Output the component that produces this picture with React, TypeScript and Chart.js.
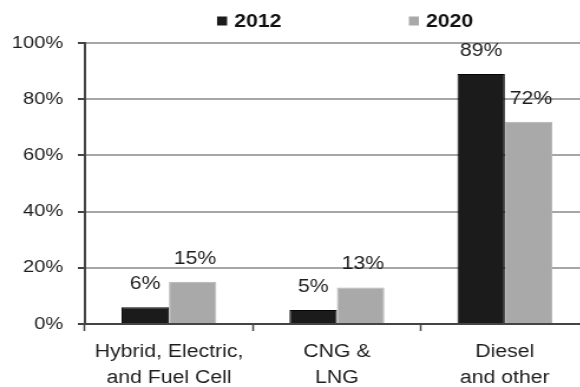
import { useEffect, useRef } from "react";
import { Chart, registerables } from "chart.js";

Chart.register(...registerables);

// Vehicle fuel-type shares, 2012 vs 2020
const categories = [
  ["Hybrid, Electric,", "and Fuel Cell"],
  ["CNG &", "LNG"],
  ["Diesel", "and other"],
];
const seriesLabels = ["2012", "2020"];
const share2012 = [6, 5, 89];
const share2020 = [15, 13, 72];
const yMin = 0;
const yMax = 100;
const yStep = 20;

// The drawing is laid out narrow and widened horizontally with a CSS transform
const STRETCH = 1.18;
const W = 505;
const H = 387;
const FONT = "'Liberation Sans', Arial, Helvetica, sans-serif";
const INK = "#1e1e1e";
const AXIS = "#444444";

const valueLabels = {
  id: "valueLabels",
  afterDatasetsDraw(chart: any) {
    const ctx = chart.ctx;
    ctx.save();
    ctx.font = `18px ${FONT}`;
    ctx.fillStyle = INK;
    ctx.textAlign = "center";
    ctx.textBaseline = "middle";
    chart.data.datasets.forEach((ds: any, i: number) => {
      const meta = chart.getDatasetMeta(i);
      meta.data.forEach((bar: any, j: number) => {
        ctx.fillText(`${ds.data[j]}%`, bar.x + (i === 1 ? 2 : 0), bar.y - 23);
      });
    });
    ctx.restore();
  },
};

const topLegend = {
  id: "topLegend",
  afterDraw(chart: any) {
    const ctx = chart.ctx;
    const area = chart.chartArea;
    const box = 8.5;
    const gapText = 6;
    const gapItem = 108;
    const y = 21;
    ctx.save();
    ctx.font = `bold 18px ${FONT}`;
    const items = chart.data.datasets.map((ds: any) => ({
      text: ds.label,
      color: ds.backgroundColor,
      w: ctx.measureText(ds.label).width,
    }));
    const total =
      items.reduce((s: number, it: any) => s + box + gapText + it.w, 0) +
      gapItem * (items.length - 1);
    let x = (area.left + area.right) / 2 + 7 - total / 2;
    items.forEach((it: any) => {
      ctx.fillStyle = it.color;
      ctx.fillRect(x, y - 4.5, box, 9);
      x += box + gapText;
      ctx.fillStyle = "#111111";
      ctx.textAlign = "left";
      ctx.textBaseline = "middle";
      ctx.fillText(it.text, x, y + 1);
      x += it.w + gapItem;
    });
    ctx.restore();
  },
};

export default function App() {
  const canvasRef = useRef<HTMLCanvasElement | null>(null);

  useEffect(() => {
    const canvas = canvasRef.current;
    if (!canvas) return;
    const chart = new Chart(canvas, {
      type: "bar",
      data: {
        labels: categories,
        datasets: [
          {
            label: seriesLabels[0],
            data: share2012,
            backgroundColor: "#1b1b1b",
            borderColor: "#050505",
            borderWidth: 1,
          },
          {
            label: seriesLabels[1],
            data: share2020,
            backgroundColor: "#a9a9a9",
            borderColor: "#b4b4b4",
            borderWidth: 1,
          },
        ],
      },
      options: {
        responsive: false,
        animation: false,
        devicePixelRatio: 1,
        layout: { padding: { top: 43, right: 6, left: 0, bottom: 0 } },
        datasets: {
          bar: { categoryPercentage: 0.565, barPercentage: 1 },
        },
        plugins: {
          legend: { display: false },
          tooltip: { enabled: false },
        },
        scales: {
          x: {
            offset: true,
            grid: {
              offset: true,
              drawOnChartArea: false,
              drawTicks: true,
              tickLength: 7,
              tickColor: AXIS,
              tickWidth: 1.5,
            },
            border: { display: true, color: AXIS, width: 2 },
            ticks: {
              color: INK,
              padding: 8,
              maxRotation: 0,
              autoSkip: false,
              font: { family: FONT, size: 18, lineHeight: 26 / 18 },
            },
            afterFit(scale: any) {
              scale.height = 63;
            },
          },
          y: {
            min: yMin,
            max: yMax,
            grid: {
              color: "#a6a6a6",
              lineWidth: 2,
              drawTicks: true,
              tickLength: 6,
              tickColor: AXIS,
              tickWidth: 2,
            },
            border: { display: true, color: AXIS, width: 2 },
            ticks: {
              stepSize: yStep,
              color: INK,
              padding: 12.5,
              font: { family: FONT, size: 17 },
              callback: (v: any) => `${v}%`,
            },
            afterFit(scale: any) {
              scale.width = 72;
            },
          },
        },
      },
      plugins: [valueLabels, topLegend],
    });
    return () => chart.destroy();
  }, []);

  return (
    <div
      style={{
        position: "fixed",
        left: 0,
        top: 0,
        width: 580,
        height: 387,
        overflow: "hidden",
        background: "#ffffff",
      }}
    >
      <div
        style={{
          width: W,
          height: H,
          transform: `scaleX(${STRETCH})`,
          transformOrigin: "0 0",
        }}
      >
        <canvas ref={canvasRef} width={W} height={H} style={{ display: "block" }} />
      </div>
    </div>
  );
}
